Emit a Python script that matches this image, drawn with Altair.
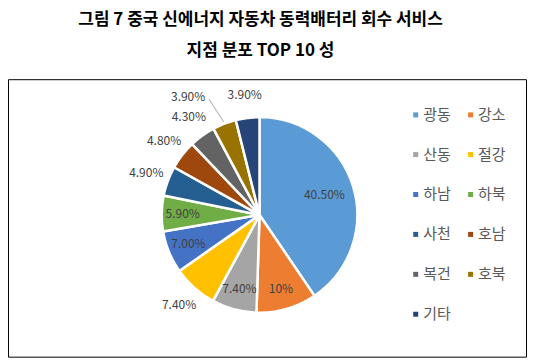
import altair as alt
import pandas as pd

title_lines = ["그림 7 중국 신에너지 자동차 동력배터리 회수 서비스", "지점 분포 TOP 10 성"]
regions = ["광동", "강소", "산동", "절강", "하남", "하북", "사천", "호남", "복건", "호북", "기타"]
shares = [40.5, 10.0, 7.4, 7.4, 7.0, 5.9, 4.9, 4.8, 4.3, 3.9, 3.9]
labels = ["40.50%", "10%", "7.40%", "7.40%", "7.00%", "5.90%", "4.90%", "4.80%", "4.30%", "3.90%", "3.90%"]
colors = ["#5B9BD5", "#ED7D31", "#A5A5A5", "#FFC000", "#4472C4", "#70AD47",
          "#255E91", "#9E480E", "#636363", "#997300", "#264478"]

FONT = "Noto Sans CJK KR"
CX, CY, R = 252, 207, 98

df = pd.DataFrame({"region": regions, "share": shares, "label": labels,
                   "idx": list(range(len(regions)))})

base = alt.Chart(df).encode(
    theta=alt.Theta("share:Q", stack=True),
    order=alt.Order("idx:Q"),
)

arcs = base.mark_arc(outerRadius=R, stroke="white", strokeWidth=2.5, x=CX, y=CY).encode(
    color=alt.Color(
        "region:N",
        sort=regions,
        scale=alt.Scale(domain=regions, range=colors),
        legend=alt.Legend(
            title=None, orient="none", legendX=401, legendY=99, columns=2,
            direction="horizontal",
            columnPadding=12, rowPadding=24, padding=0,
            symbolType="square", symbolSize=25, symbolStrokeWidth=0,
            labelFont=FONT, labelFontSize=15, labelColor="#595959", labelOffset=0,
        ),
    )
)


def label_layer(names, radius, dx=0, dy=0):
    expr = "indexof(" + str(names) + ", datum.region) >= 0 ? datum.label : ''"
    return base.transform_calculate(lab=expr).mark_text(
        x=CX, y=CY, radius=radius, dx=dx, dy=dy,
        font=FONT, fontSize=12, color="#404040",
    ).encode(text="lab:N")


lab_big = label_layer(["광동"], 68)
lab_in = label_layer(["강소", "산동", "하남", "하북"], 77)
lab_out = label_layer(["절강", "사천", "호남", "복건", "기타"], 121)
lab_sp = label_layer(["호북"], 135, dx=-23, dy=8)

leader = alt.Chart(df).transform_window(
    cum="sum(share)", sort=[alt.SortField("idx")]
).transform_calculate(
    mid="(datum.cum - datum.share / 2) / 100 * 2 * PI",
).transform_calculate(
    x1=f"{CX} + {R + 2} * sin(datum.mid)",
    y1=f"{CY} - {R + 2} * cos(datum.mid)",
    x2=f"{CX} + 127 * sin(datum.mid - 0.044)",
    y2=f"{CY} - 127 * cos(datum.mid - 0.044)",
).transform_filter("datum.region == '호북'").mark_rule(color="#A6A6A6", strokeWidth=1).encode(
    x=alt.X("x1:Q", scale=None), y=alt.Y("y1:Q", scale=None),
    x2="x2:Q", y2="y2:Q",
)

one = pd.DataFrame({"t1": [title_lines[0]], "t2": [title_lines[1]]})
title1 = alt.Chart(one).mark_text(font=FONT, fontSize=17, fontWeight="bold", color="black",
                                  align="center", baseline="middle").encode(
    text="t1:N", x=alt.value(253), y=alt.value(12))
title2 = alt.Chart(one).mark_text(font=FONT, fontSize=17, fontWeight="bold", color="black",
                                  align="center", baseline="middle").encode(
    text="t2:N", x=alt.value(253), y=alt.value(43))

box = alt.Chart(one).mark_rect(fillOpacity=0, stroke="black", strokeWidth=1).encode(
    x=alt.value(0.5), x2=alt.value(519.5), y=alt.value(71.5), y2=alt.value(349.5))

chart = alt.layer(box, arcs, lab_big, lab_in, lab_out, lab_sp, leader, title1, title2).properties(
    width=520, height=350, padding=0, autosize=alt.AutoSizeParams(type="none"),
    background="white",
).configure_view(stroke=None)

chart.save("out.html", embed_options={"renderer": "svg", "actions": False})
